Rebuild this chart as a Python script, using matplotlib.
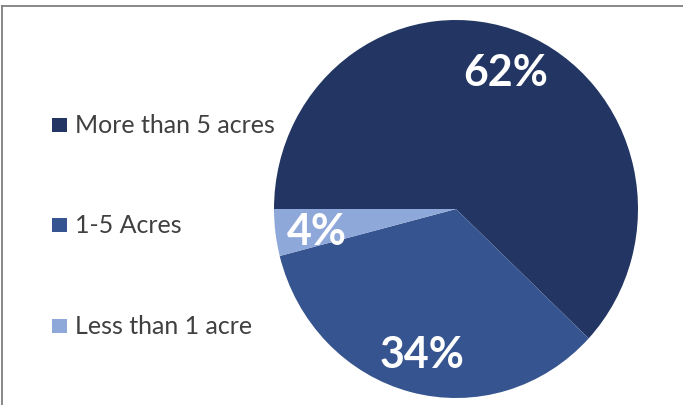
import matplotlib.pyplot as plt
from matplotlib.patches import Rectangle
from matplotlib.lines import Line2D

categories = ["More than 5 acres", "1-5 Acres", "Less than 1 acre"]
values = [62, 34, 4]
colors = ["#233562", "#36548F", "#8FA8DA"]

W, H = 683, 406
fig = plt.figure(figsize=(W / 100, H / 100), dpi=100)
fig.patch.set_facecolor("white")

# pie axes (slightly elliptical like the reference)
cx, cy, rx, ry = 456, 210, 182, 189
ax = fig.add_axes([(cx - rx) / W, (H - cy - ry) / H, 2 * rx / W, 2 * ry / H])
ax.pie(values, colors=colors, startangle=180, counterclock=False,
       radius=1, wedgeprops=dict(linewidth=0))
ax.set_aspect("auto")
ax.set_xlim(-1, 1)
ax.set_ylim(-1, 1)
ax.axis("off")

# value labels (pixel positions from the reference)
label_pos = [(506, 73), (422, 355), (317, 232)]
for v, (px, py) in zip(values, label_pos):
    ax.text((px - cx) / rx, (cy - py) / ry, f"{v}%", color="white",
            fontsize=31, fontweight="bold", family="Lato",
            ha="center", va="center")

# legend
leg_y = [125.5, 226, 326.5]
for cat, col, py in zip(categories, colors, leg_y):
    fig.patches.append(Rectangle((52 / W, (H - py - 7) / H), 15 / W, 14 / H,
                                 transform=fig.transFigure, facecolor=col,
                                 edgecolor="none"))
    fig.text(75 / W, (H - py) / H, cat, color="#404040", fontsize=18,
             family="Lato", ha="left", va="center")

# border lines (top and left)
fig.lines.append(Line2D([2 / W, 1], [(H - 7) / H, (H - 7) / H],
                        transform=fig.transFigure, color="#7f7f7f", lw=1.3))
fig.lines.append(Line2D([2 / W, 2 / W], [0, (H - 7) / H],
                        transform=fig.transFigure, color="#7f7f7f", lw=1.3))

fig.savefig("out.png", dpi=100)
